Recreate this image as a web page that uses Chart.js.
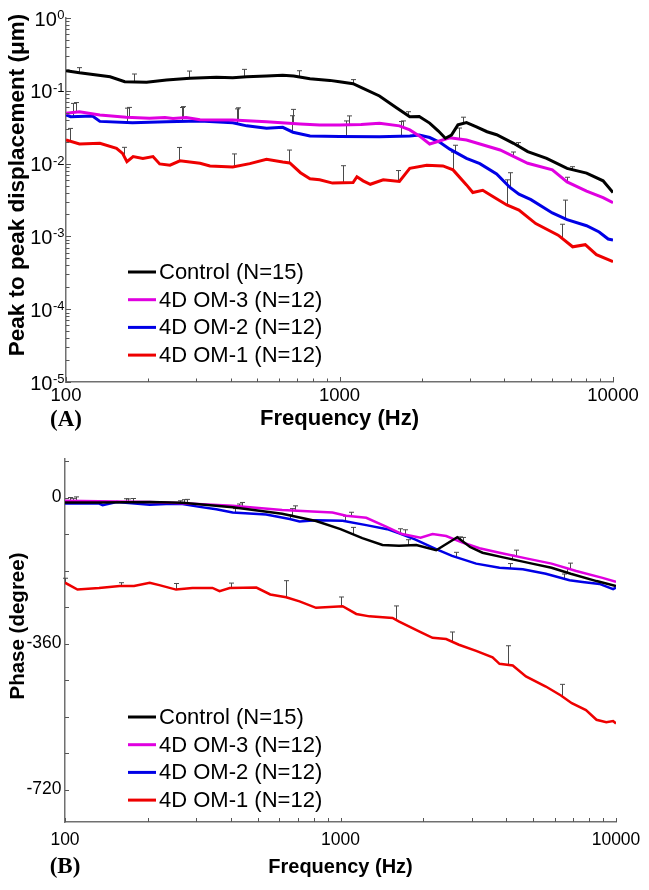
<!DOCTYPE html>
<html>
<head>
<meta charset="utf-8">
<script src="https://cdn.jsdelivr.net/npm/chart.js@4.4.1/dist/chart.umd.min.js"></script>
<style>
  html, body { margin: 0; padding: 0; background: #fff; }
  #wrap { position: relative; width: 649px; height: 890px; }
  canvas { position: absolute; left: 0; }
  #ampChart { top: 0; }
  #phaseChart { top: 445px; }
</style>
</head>
<body>
<div id="wrap">
  <canvas id="ampChart" width="649" height="445"></canvas>
  <canvas id="phaseChart" width="649" height="445"></canvas>
</div>
<script>
const seriesLabels = ['Control (N=15)', '4D OM-3 (N=12)', '4D OM-2 (N=12)', '4D OM-1 (N=12)'];
const seriesColors = ['#000000', '#e000e0', '#0000e6', '#ee0000'];

// tick labels
const freqTicks = [100, 1000, 10000];
const ampTicks = [1, 0.1, 0.01, 0.001, 0.0001, 0.00001]; // shown as 10^0 .. 10^-5
const phaseTicks = [0, -360, -720];
const PHASE_STEP = 90; // minor tick spacing on the phase axis

// (A) peak to peak displacement (um), [frequency Hz, value]
const ampControl = [[100,0.189],[112,0.177],[145,0.156],[164,0.133],[197,0.131],[233,0.141],[284,0.149],[355,0.153],[407,0.151],[458,0.156],[541,0.160],[620,0.163],[680,0.160],[780,0.146],[922,0.139],[1000,0.133],[1121,0.125],[1220,0.108],[1400,0.085],[1620,0.058],[1807,0.044],[1957,0.0445],[2136,0.036],[2300,0.028],[2438,0.0223],[2567,0.0247],[2710,0.034],[2913,0.0365],[3168,0.032],[3464,0.0274],[3754,0.0249],[4328,0.019],[4877,0.0146],[5720,0.0118],[6793,0.0086],[8006,0.0074],[9199,0.0058],[10000,0.0040]];
const ampOM3 = [[100,0.049],[112,0.0516],[133,0.0465],[166,0.0433],[202,0.042],[230,0.043],[246,0.0415],[275,0.043],[309,0.040],[407,0.0397],[541,0.0377],[718,0.035],[846,0.0339],[1000,0.034],[1200,0.0345],[1400,0.0357],[1656,0.033],[1807,0.029],[1957,0.024],[2136,0.0186],[2334,0.0206],[2531,0.0226],[2913,0.0211],[3866,0.0154],[4877,0.0101],[6000,0.0082],[6793,0.0056],[8006,0.0042],[9199,0.0034],[10000,0.0029]];
const ampOM2 = [[100,0.0465],[104,0.044],[125,0.0451],[133,0.038],[175,0.0365],[233,0.0375],[309,0.0385],[407,0.0365],[458,0.033],[541,0.0305],[620,0.0315],[676,0.027],[780,0.024],[1000,0.0236],[1400,0.0234],[1807,0.024],[1957,0.0247],[2136,0.0228],[2334,0.0195],[2531,0.0158],[2913,0.0118],[3260,0.0100],[3754,0.0072],[4200,0.0047],[4530,0.0038],[5012,0.0032],[6000,0.0021],[6793,0.0017],[8006,0.0014],[8900,0.00115],[9600,0.00092],[10000,0.00089]];
const ampOM1 = [[100,0.0211],[112,0.0186],[133,0.019],[153,0.0162],[161,0.0138],[167,0.0106],[176,0.0125],[191,0.0118],[208,0.0125],[220,0.0099],[240,0.0095],[261,0.0109],[309,0.0101],[336,0.0093],[407,0.009],[470,0.010],[541,0.0115],[620,0.0105],[658,0.0102],[720,0.0075],[780,0.0062],[846,0.006],[943,0.0054],[1121,0.0055],[1158,0.0066],[1220,0.0058],[1296,0.0052],[1445,0.006],[1656,0.0057],[1807,0.0086],[2083,0.0095],[2389,0.0093],[2601,0.0082],[2913,0.0051],[3072,0.004],[3340,0.0043],[3649,0.0035],[4090,0.0027],[4531,0.0023],[5218,0.0015],[6302,0.00104],[7120,0.00072],[7919,0.00077],[8698,0.00056],[10000,0.00045]];

// (A) +SD bars, [frequency Hz, SD]
const ampControlSd = [[112,0.031],[178,0.038],[282,0.038],[447,0.042],[709,0.033],[1124,0.018],[1782,0.006],[2824,0.008],[4476,0.0018],[7094,0.0008]];
const ampOM3Sd = [[109,0.018],[170,0.016],[268,0.018],[425,0.019],[676,0.020],[1083,0.011],[1706,0.007],[2725,0.009],[4312,0.0018],[6800,0.0009]];
const ampOM2Sd = [[106,0.023],[167,0.021],[265,0.021],[421,0.021],[670,0.018],[1056,0.015],[1674,0.014],[2650,0.0035],[4202,0.0028],[6676,0.0014]];
const ampOM1Sd = [[103,0.010],[163,0.0041],[259,0.0059],[412,0.0045],[652,0.0051],[1034,0.0039],[1637,0.0023],[2590,0.0061],[4107,0.0033],[6520,0.00053]];

// (B) phase (degree), [frequency Hz, value]
const phaseControl = [[100,-12],[133,-12],[203,-11],[267,-13],[406,-24],[614,-40],[815,-58],[1000,-78],[1200,-100],[1420,-117],[1630,-119],[1884,-117],[2225,-130],[2654,-98],[2954,-122],[3277,-136],[3860,-147],[4961,-163],[5835,-173],[6850,-188],[8500,-206],[10000,-218]];
const phaseOM3 = [[100,-8],[203,-11],[267,-14],[406,-20],[614,-31],[935,-37],[1049,-45],[1240,-50],[1464,-72],[1673,-90],[1953,-99],[2158,-90],[2419,-95],[2772,-111],[3196,-125],[3777,-136],[4721,-150],[5835,-163],[7170,-181],[8933,-198],[10000,-208]];
const phaseOM2 = [[100,-15],[133,-15],[137,-19],[154,-11],[203,-18],[233,-16],[267,-16],[308,-23],[354,-29],[406,-37],[537,-42],[654,-53],[710,-59],[815,-56],[1018,-57],[1240,-68],[1478,-78],[1633,-88],[1863,-103],[2225,-127],[2541,-144],[3107,-163],[3777,-173],[4589,-177],[5563,-188],[6780,-204],[7560,-208],[8710,-213],[9760,-226],[10000,-222]];
const phaseOM1 = [[100,-210],[111,-227],[133,-223],[158,-218],[178,-218],[203,-210],[220,-216],[253,-227],[290,-223],[343,-223],[364,-231],[396,-223],[495,-222],[556,-239],[635,-246],[710,-256],[815,-272],[1018,-268],[1141,-287],[1274,-293],[1545,-297],[1633,-306],[1953,-332],[2158,-346],[2418,-349],[2690,-363],[3107,-378],[3564,-394],[3777,-410],[4220,-414],[4710,-441],[5563,-466],[6311,-488],[6911,-507],[7780,-524],[8495,-548],[9220,-554],[9760,-551],[10000,-557]];

// (B) +SD bars, [frequency Hz, SD degree]
const phaseControlSd = [[107,10],[170,8],[270,8],[427,10],[668,18],[1110,17],[1755,14],[2780,10],[4200,10],[6640,10]];
const phaseOM3Sd = [[110,10],[176,8],[278,10],[440,10],[683,12],[1096,10],[1718,12],[2725,12],[4340,15],[6830,15]];
const phaseOM2Sd = [[104,15],[166,10],[262,8],[414,10],[654,10],[1034,12],[1648,12],[2625,12],[4120,12],[6500,12]];
const phaseOM1Sd = [[100,11],[160,8],[253,15],[401,12],[635,41],[1006,23],[1596,35],[2541,24],[4040,47],[6390,30]];

const AXIS_COLOR = '#707070';
const SANS = '"Liberation Sans", Arial, sans-serif';
Chart.defaults.font.family = SANS;
Chart.defaults.color = '#000';

function makeDatasets(curves, sds, width) {
    return curves.map((pts, i) => ({
        label: seriesLabels[i],
        data: pts.map(([x, y]) => ({ x, y })),
        borderColor: seriesColors[i],
        backgroundColor: seriesColors[i],
        borderWidth: width,
        pointRadius: 0,
        tension: 0,
        fill: false,
        sdBars: sds[i]
    }));
}

// upward SD bars, starting on the curve
const sdBars = {
    id: 'sdBars',
    beforeDatasetsDraw(chart) {
        const { ctx } = chart;
        const xs = chart.scales.x, ys = chart.scales.y;
        ctx.save();
        ctx.strokeStyle = '#4a4a4a';
        ctx.lineWidth = 1;
        chart.data.datasets.forEach((ds, i) => {
            const pts = chart.getDatasetMeta(i).data;
            (ds.sdBars || []).forEach(([f, sd]) => {
                const px = xs.getPixelForValue(f);
                let k = 0;
                while (k < pts.length - 2 && pts[k + 1].x < px) k++;
                const a = pts[k], b = pts[k + 1];
                const py = a.y + (b.y - a.y) * (px - a.x) / (b.x - a.x);
                const top = ys.getPixelForValue(ys.getValueForPixel(py) + sd);
                const xx = Math.round(px) + 0.5;
                ctx.beginPath();
                ctx.moveTo(xx, py);
                ctx.lineTo(xx, top);
                ctx.moveTo(xx - 2.5, top);
                ctx.lineTo(xx + 2.5, top);
                ctx.stroke();
            });
        });
        ctx.restore();
    }
};

function tickKind(scale, v) {
    if (scale.type === 'logarithmic') {
        const e = Math.floor(Math.log10(v) + 1e-9);
        const m = v / Math.pow(10, e);
        if (Math.abs(m - Math.round(m)) > 1e-6) return null;
        return Math.round(m) === 1 ? 'major' : 'minor';
    }
    if (Math.abs(v % PHASE_STEP) > 1e-6) return null;
    return v % 360 === 0 ? 'major' : 'minor';
}

// tick marks pointing into the plot
const innerTicks = {
    id: 'innerTicks',
    afterDatasetsDraw(chart, args, opts) {
        const { ctx, chartArea } = chart;
        ctx.save();
        ctx.strokeStyle = opts.color;
        ctx.lineWidth = 1;
        ctx.beginPath();
        Object.values(chart.scales).forEach(scale => {
            scale.ticks.forEach(t => {
                const kind = tickKind(scale, t.value);
                if (!kind) return;
                const len = kind === 'major' ? opts.major : opts.minor;
                const p = Math.round(scale.getPixelForValue(t.value)) + 0.5;
                if (scale.isHorizontal()) {
                    ctx.moveTo(p, chartArea.bottom);
                    ctx.lineTo(p, chartArea.bottom - len);
                } else {
                    ctx.moveTo(chartArea.left, p);
                    ctx.lineTo(chartArea.left + len, p);
                }
            });
        });
        ctx.stroke();
        ctx.restore();
    }
};

// 10^n labels for the displacement axis
const powerLabels = {
    id: 'powerLabels',
    afterDraw(chart, args, opts) {
        if (!opts.enabled) return;
        const { ctx } = chart;
        const s = chart.scales.y;
        const xr = s.right - 1.5;
        ctx.save();
        ctx.fillStyle = '#000';
        ctx.textAlign = 'right';
        ctx.textBaseline = 'alphabetic';
        ampTicks.forEach(v => {
            const py = s.getPixelForValue(v);
            const exp = String(Math.round(Math.log10(v)));
            ctx.font = '13px ' + SANS;
            const w = ctx.measureText(exp).width;
            ctx.fillText(exp, xr, py + 1);
            ctx.font = '20px ' + SANS;
            ctx.fillText('10', xr - w - 0.5, py + 7.5);
        });
        ctx.restore();
    }
};

// y title, panel letter and legend
const panelText = {
    id: 'panelText',
    afterDraw(chart, args, o) {
        const { ctx } = chart;
        ctx.save();
        ctx.fillStyle = '#000';
        ctx.textAlign = 'center';
        ctx.textBaseline = 'middle';

        ctx.save();
        ctx.translate(o.yTitle.x, o.yTitle.y);
        ctx.rotate(-Math.PI / 2);
        ctx.font = o.yTitle.font;
        ctx.fillText(o.yTitle.text, 0, 0);
        ctx.restore();

        ctx.font = 'bold 23px "Liberation Serif", "Times New Roman", serif';
        ctx.fillText(o.letter.text, o.letter.x, o.letter.y);

        const lg = o.legend;
        ctx.font = lg.font;
        ctx.textAlign = 'left';
        chart.data.datasets.forEach((ds, i) => {
            const y = lg.top + i * lg.rowHeight;
            ctx.strokeStyle = ds.borderColor;
            ctx.lineWidth = 3;
            ctx.beginPath();
            ctx.moveTo(lg.x0, y);
            ctx.lineTo(lg.x1, y);
            ctx.stroke();
            ctx.fillText(ds.label, lg.textX, y + 1);
        });
        ctx.restore();
    }
};

const legendOpts = { x0: 128, x1: 156, textX: 159, top: 272, rowHeight: 27.7, font: '22px ' + SANS };

new Chart(document.getElementById('ampChart'), {
    type: 'line',
    data: {
        datasets: makeDatasets([ampControl, ampOM3, ampOM2, ampOM1],
            [ampControlSd, ampOM3Sd, ampOM2Sd, ampOM1Sd], 3)
    },
    options: {
        responsive: false,
        animation: false,
        events: [],
        layout: { padding: { top: 18, right: 36, bottom: 0, left: 0 } },
        scales: {
            x: {
                type: 'logarithmic', min: 100, max: 10000,
                grid: { display: false, drawTicks: false },
                border: { color: AXIS_COLOR, width: 1.5 },
                ticks: {
                    autoSkip: false, maxRotation: 0, padding: 3,
                    font: { size: 18.5 },
                    callback: v => freqTicks.includes(v) ? String(v) : ''
                },
                title: { display: true, text: 'Frequency (Hz)', font: { size: 22, weight: 'bold' }, padding: { top: 0, bottom: 13 } },
                afterFit: s => { s.height = 63; }
            },
            y: {
                type: 'logarithmic', min: 1e-5, max: 1,
                grid: { display: false, drawTicks: false },
                border: { color: AXIS_COLOR, width: 1.5 },
                ticks: { autoSkip: false, callback: () => '' },
                afterFit: s => { s.width = 66; }
            }
        },
        plugins: {
            legend: { display: false },
            tooltip: { enabled: false },
            innerTicks: { color: '#555', major: 5, minor: 3.5 },
            powerLabels: { enabled: true },
            panelText: {
                yTitle: { text: 'Peak to peak displacement (\u03bcm)', x: 17.5, y: 185, font: 'bold 22.5px ' + SANS },
                letter: { text: '(A)', x: 66, y: 420 },
                legend: legendOpts
            }
        }
    },
    plugins: [sdBars, innerTicks, powerLabels, panelText]
});

new Chart(document.getElementById('phaseChart'), {
    type: 'line',
    data: {
        datasets: makeDatasets([phaseControl, phaseOM3, phaseOM2, phaseOM1],
            [phaseControlSd, phaseOM3Sd, phaseOM2Sd, phaseOM1Sd], 2.5)
    },
    options: {
        responsive: false,
        animation: false,
        events: [],
        layout: { padding: { top: 13, right: 33, bottom: 0, left: 0 } },
        scales: {
            x: {
                type: 'logarithmic', min: 100, max: 10000,
                grid: { display: false, drawTicks: false },
                border: { color: AXIS_COLOR, width: 1.5 },
                ticks: {
                    autoSkip: false, maxRotation: 0, padding: 8,
                    font: { size: 17.5 },
                    callback: v => freqTicks.includes(v) ? String(v) : ''
                },
                title: { display: true, text: 'Frequency (Hz)', font: { size: 20, weight: 'bold' }, padding: { top: 0, bottom: 11 } },
                afterFit: s => { s.height = 68; }
            },
            y: {
                min: -800, max: 95,
                grid: { display: false, drawTicks: false },
                border: { color: AXIS_COLOR, width: 1.5 },
                ticks: {
                    autoSkip: false, padding: 3.5,
                    font: { size: 17.5 },
                    callback: v => phaseTicks.includes(v) ? String(v) : ''
                },
                // one tick every 90 degrees inside the range
                afterBuildTicks: s => {
                    const ticks = [];
                    for (let v = Math.ceil(s.min / PHASE_STEP) * PHASE_STEP; v <= s.max; v += PHASE_STEP) {
                        ticks.push({ value: v });
                    }
                    s.ticks = ticks;
                },
                afterFit: s => { s.width = 65; }
            }
        },
        plugins: {
            legend: { display: false },
            tooltip: { enabled: false },
            innerTicks: { color: '#555', major: 4, minor: 4 },
            powerLabels: { enabled: false },
            panelText: {
                yTitle: { text: 'Phase (degree)', x: 18, y: 181, font: 'bold 20.5px ' + SANS },
                letter: { text: '(B)', x: 65, y: 422 },
                legend: legendOpts
            }
        }
    },
    plugins: [sdBars, innerTicks, powerLabels, panelText]
});
</script>
</body>
</html>
